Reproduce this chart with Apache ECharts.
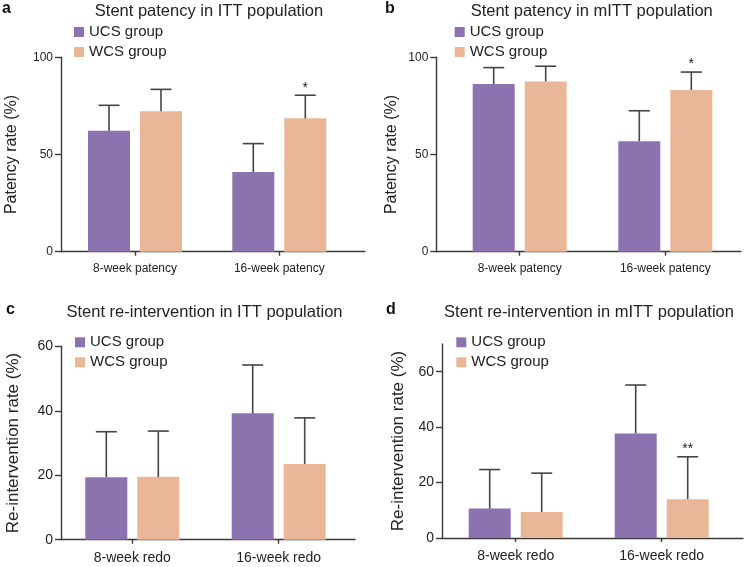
<!DOCTYPE html>
<html>
<head>
<meta charset="utf-8">
<script src="https://cdn.jsdelivr.net/npm/echarts@6/dist/echarts.min.js"></script>
<style>html,body{margin:0;padding:0;background:#fff}#c{width:747px;height:567px}</style>
</head>
<body>
<div id="c"></div>
<script>
// ---- data ----
const seriesNames = ['UCS group', 'WCS group'];

const catsA = ['8-week patency', '16-week patency'];
const ucsA = [62.2, 41.0];
const ucsSdA = [13.1, 14.6];
const wcsA = [72.2, 68.6];
const wcsSdA = [11.3, 11.9];
const starsA = ['', '*'];
const titleA = 'Stent patency in ITT population';

const catsB = ['8-week patency', '16-week patency'];
const ucsB = [86.3, 56.8];
const ucsSdB = [8.4, 15.7];
const wcsB = [87.6, 83.2];
const wcsSdB = [7.8, 9.2];
const starsB = ['', '*'];
const titleB = 'Stent patency in mITT population';

const catsC = ['8-week redo', '16-week redo'];
const ucsC = [19.4, 39.2];
const ucsSdC = [14.1, 15.0];
const wcsC = [19.5, 23.5];
const wcsSdC = [14.2, 14.3];
const starsC = ['', ''];
const titleC = 'Stent re-intervention in ITT population';

const catsD = ['8-week redo', '16-week redo'];
const ucsD = [10.6, 37.7];
const ucsSdD = [14.1, 17.5];
const wcsD = [9.4, 14.0];
const wcsSdD = [14.0, 15.3];
const starsD = ['', '**'];
const titleD = 'Stent re-intervention in mITT population';

const yNamePatency = 'Patency rate (%)';
const yNameRedo = 'Re-intervention rate (%)';
const ticksPatency = [0, 50, 100];
const ticksRedoC = [0, 20, 40, 60];
const ticksRedoD = [0, 20, 40, 60];
const panelLetters = ['a', 'b', 'c', 'd'];

// ---- styling / layout ----
const FONT = '"Liberation Sans", Arial, Helvetica, sans-serif';
const PURPLE = '#8b73b0';
const PEACH = '#e9b697';
const AXIS = '#3a3a3a';
const TEXT = '#222';
const BAR_W = 42, BAR_GAP = 10;
const OFF = (BAR_W + BAR_GAP) / 2;

const panels = [
  {cats: catsA, ucs: ucsA, ucsSd: ucsSdA, wcs: wcsA, wcsSd: wcsSdA, stars: starsA, title: titleA, yName: yNamePatency, ticks: ticksPatency, max: 100, interval: 50,
   line: {left: 61, top: 57.3, width: 304, height: 194.4}, data: {left: 62.85, width: 288.6},
   titleX: 209, titleY: 3, letterX: 2, letterY: 1, legX: 74, legY: 24.5, nameGap: 41, nameSize: 16, labSize: 12, catSize: 12, catMargin: 11},
  {cats: catsB, ucs: ucsB, ucsSd: ucsSdB, wcs: wcsB, wcsSd: wcsSdB, stars: starsB, title: titleB, yName: yNamePatency, ticks: ticksPatency, max: 100, interval: 50,
   line: {left: 436.3, top: 57.3, width: 304.7, height: 194.4}, data: {left: 446.9, width: 291.2},
   titleX: 591.7, titleY: 3, letterX: 385, letterY: 1, legX: 454.7, legY: 24.5, nameGap: 37, nameSize: 16, labSize: 12, catSize: 12, catMargin: 11},
  {cats: catsC, ucs: ucsC, ucsSd: ucsSdC, wcs: wcsC, wcsSd: wcsSdC, stars: starsC, title: titleC, yName: yNameRedo, ticks: ticksRedoC, max: 60, interval: 20,
   line: {left: 61, top: 346.3, width: 294, height: 193.4}, data: {left: 59.1, width: 292.8},
   titleX: 204.5, titleY: 304, letterX: 6, letterY: 302, legX: 75, legY: 334.8, nameGap: 39.5, nameSize: 17, labSize: 14, catSize: 14, catMargin: 11},
  {cats: catsD, ucs: ucsD, ucsSd: ucsSdD, wcs: wcsD, wcsSd: wcsSdD, stars: starsD, title: titleD, yName: yNameRedo, ticks: ticksRedoD, max: 70, interval: 20,
   line: {left: 442, top: 344, width: 301, height: 194}, data: {left: 442.7, width: 292},
   titleX: 589, titleY: 304, letterX: 386, letterY: 302, legX: 456.3, legY: 334.8, nameGap: 35.5, nameSize: 17, labSize: 14, catSize: 14, catMargin: 11}
];

const grid = [], xAxis = [], yAxis = [], series = [], title = [], legend = [];

function errRender(offset, stars) {
  return function (params, api) {
    const ci = api.value(0), v = api.value(1), sd = api.value(2);
    const base = api.coord([ci, v]);
    const top = api.coord([ci, v + sd]);
    const x = base[0] + offset;
    const children = [
      {type: 'line', shape: {x1: x, y1: base[1], x2: x, y2: top[1]}, style: {stroke: '#444', lineWidth: 1.6}},
      {type: 'line', shape: {x1: x - 10.5, y1: top[1], x2: x + 10.5, y2: top[1]}, style: {stroke: '#444', lineWidth: 1.6}}
    ];
    const s = stars[params.dataIndex];
    if (s) {
      children.push({type: 'text', style: {text: s, x: x, y: top[1] - 0.5, align: 'center', verticalAlign: 'bottom', fontSize: 14, fontFamily: FONT, fill: '#222'}});
    }
    return {type: 'group', children: children};
  };
}

panels.forEach((p, i) => {
  const gl = 2 * i, gd = 2 * i + 1;
  grid.push({left: p.line.left, top: p.line.top, width: p.line.width, height: p.line.height});
  grid.push({left: p.data.left, top: p.line.top, width: p.data.width, height: p.line.height});

  xAxis.push({type: 'category', gridIndex: gl, data: p.cats, axisLine: {show: true, lineStyle: {color: AXIS, width: 1.4}},
    axisTick: {show: false}, axisLabel: {show: false}, splitLine: {show: false}});
  xAxis.push({type: 'category', gridIndex: gd, data: p.cats, axisLine: {show: false},
    axisTick: {show: true, alignWithLabel: true, length: 4, lineStyle: {color: AXIS, width: 1.4}},
    axisLabel: {show: true, margin: p.catMargin, fontSize: p.catSize, fontFamily: FONT, color: TEXT}});

  yAxis.push({type: 'value', gridIndex: gl, min: 0, max: p.max, interval: p.interval,
    name: p.yName, nameLocation: 'middle', nameGap: p.nameGap,
    nameTextStyle: {fontSize: p.nameSize, fontFamily: FONT, color: TEXT},
    axisLine: {show: true, lineStyle: {color: AXIS, width: 1.4}},
    axisTick: {show: true, length: 6, customValues: p.ticks, lineStyle: {color: AXIS, width: 1.4}},
    axisLabel: {margin: 8, fontSize: p.labSize, fontFamily: FONT, color: TEXT, customValues: p.ticks},
    splitLine: {show: false}});
  yAxis.push({type: 'value', gridIndex: gd, min: 0, max: p.max, interval: p.interval, show: false, splitLine: {show: false}});

  series.push({name: seriesNames[0], type: 'bar', xAxisIndex: gd, yAxisIndex: gd, data: p.ucs,
    barWidth: BAR_W, barGap: (BAR_GAP / BAR_W * 100).toFixed(2) + '%', itemStyle: {color: PURPLE}, silent: true});
  series.push({name: seriesNames[1], type: 'bar', xAxisIndex: gd, yAxisIndex: gd, data: p.wcs,
    barWidth: BAR_W, barGap: (BAR_GAP / BAR_W * 100).toFixed(2) + '%', itemStyle: {color: PEACH}, silent: true});
  series.push({type: 'custom', xAxisIndex: gd, yAxisIndex: gd, silent: true, z: 5,
    data: p.ucs.map((v, k) => [k, v, p.ucsSd[k]]), renderItem: errRender(-OFF, ['', ''])});
  series.push({type: 'custom', xAxisIndex: gd, yAxisIndex: gd, silent: true, z: 5,
    data: p.wcs.map((v, k) => [k, v, p.wcsSd[k]]), renderItem: errRender(OFF, p.stars)});

  title.push({text: p.title, left: p.titleX, top: p.titleY, textAlign: 'center', padding: 0,
    textStyle: {fontSize: 16.5, fontWeight: 'normal', fontFamily: FONT, color: TEXT}});
  title.push({text: panelLetters[i], left: p.letterX, top: p.letterY, padding: 0,
    textStyle: {fontSize: 16, fontWeight: 'bold', fontFamily: FONT, color: '#111'}});

  legend.push({data: seriesNames, orient: 'vertical', left: p.legX, top: p.legY, padding: 0,
    icon: 'rect', itemWidth: 10, itemHeight: 10, itemGap: 5, selectedMode: false,
    textStyle: {fontSize: 15, fontFamily: FONT, color: TEXT, lineHeight: 15}});
});

const chart = echarts.init(document.getElementById('c'), null, {renderer: 'canvas'});
chart.setOption({animation: false, backgroundColor: '#fff', color: [PURPLE, PEACH],
  title: title, legend: legend, grid: grid, xAxis: xAxis, yAxis: yAxis, series: series});
</script>
</body>
</html>
